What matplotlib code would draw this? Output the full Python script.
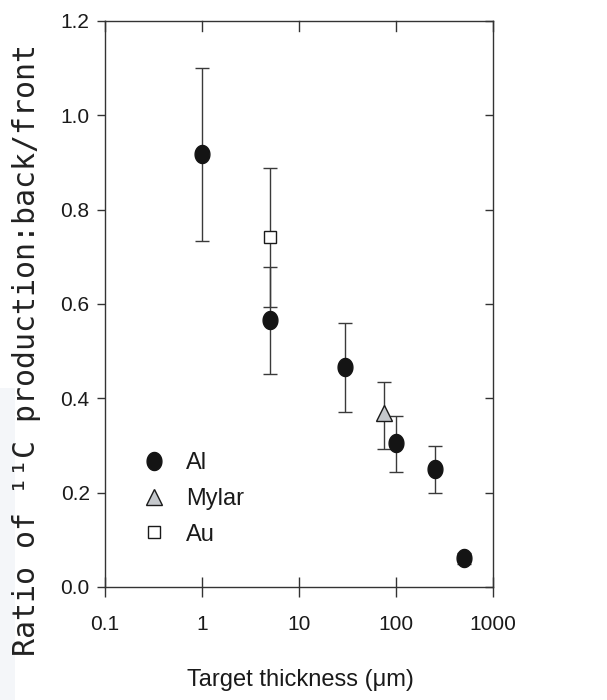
import numpy as np
import matplotlib
matplotlib.use('Agg')
import matplotlib.pyplot as plt
from matplotlib.path import Path
from matplotlib.patches import Rectangle

plt.rcParams['font.family'] = ['Liberation Sans', 'DejaVu Sans']

# datos
al_x = [1, 5, 30, 100, 250, 500]
al_y = [0.919, 0.566, 0.467, 0.305, 0.251, 0.061]
al_lo = [0.734, 0.452, 0.372, 0.243, 0.199, 0.048]
al_hi = [1.101, 0.678, 0.559, 0.363, 0.298, 0.073]

mylar_x = [75]
mylar_y = [0.368]
mylar_lo = [0.292]
mylar_hi = [0.435]

au_x = [5]
au_y = [0.741]
au_lo = [0.593]
au_hi = [0.889]

xticks = [0.1, 1, 10, 100, 1000]
xtick_labels = ['0.1', '1', '10', '100', '1000']
yticks = [0.0, 0.2, 0.4, 0.6, 0.8, 1.0, 1.2]

# marcador eliptico (un poco mas alto que ancho)
t = np.linspace(0, 2 * np.pi, 60)
ellipse = Path(np.column_stack([0.82 * np.cos(t), np.sin(t)]), closed=True)

fig = plt.figure(figsize=(6.07, 7), dpi=100)
fig.patches.append(Rectangle((0, 0), 15 / 607, 1 - 388 / 700, transform=fig.transFigure,
                             facecolor='#f4f6f9', edgecolor='none', zorder=0))
ax = fig.add_axes([105 / 607, 1 - 587 / 700, 388 / 607, 566 / 700])


def err(y, lo, hi):
    y = np.array(y)
    return [y - np.array(lo), np.array(hi) - y]


ecol = '#3a3a3a'
ax.errorbar(al_x, al_y, yerr=err(al_y, al_lo, al_hi), fmt='none', ecolor=ecol,
            elinewidth=1.0, capsize=5, capthick=1.0, zorder=2)
ax.errorbar(mylar_x, mylar_y, yerr=err(mylar_y, mylar_lo, mylar_hi), fmt='none', ecolor=ecol,
            elinewidth=1.0, capsize=5, capthick=1.0, zorder=2)
ax.errorbar(au_x, au_y, yerr=err(au_y, au_lo, au_hi), fmt='none', ecolor=ecol,
            elinewidth=1.0, capsize=5, capthick=1.0, zorder=2)

ax.plot(al_x, al_y, linestyle='none', marker=ellipse, markersize=13,
        color='#141414', label='Al', zorder=3)
ax.plot(mylar_x, mylar_y, linestyle='none', marker='^', markersize=11,
        markerfacecolor='#c5c8cc', markeredgecolor='#1a1a1a', markeredgewidth=1.0,
        label='Mylar', zorder=3)
ax.plot(au_x, au_y, linestyle='none', marker='s', markersize=9,
        markerfacecolor='white', markeredgecolor='#1a1a1a', markeredgewidth=1.0,
        label='Au', zorder=3)

ax.set_xscale('log')
ax.set_xlim(0.1, 1000)
ax.set_ylim(0, 1.2)
ax.set_xticks(xticks)
ax.set_xticklabels(xtick_labels)
ax.xaxis.set_minor_locator(matplotlib.ticker.NullLocator())
ax.set_yticks(yticks)
ax.set_yticklabels([f'{v:.1f}' for v in yticks])

for s in ax.spines.values():
    s.set_color('#333333')
    s.set_linewidth(1.0)

ax.tick_params(axis='x', which='major', direction='inout', length=14, width=1.0,
               color='#333333', labelsize=15, pad=13, top=False, labelcolor='#1a1a1a')
ax.tick_params(axis='y', which='major', direction='out', length=6, width=1.0,
               color='#333333', labelsize=15, pad=5, right=False, labelcolor='#1a1a1a')

# ticks interiores arriba y a la derecha
for v in xticks:
    ax.plot([v, v], [1.2, 1.2 - 0.022], color='#333333', lw=1.0, clip_on=False, zorder=1)
ax2 = ax.secondary_yaxis('right')
ax2.set_yticks(yticks)
ax2.tick_params(direction='in', length=6, width=1.0, color='#333333', labelright=False)
ax2.spines['right'].set_visible(False)

leg = ax.legend(loc='upper left', bbox_to_anchor=(0.065, 0.255), frameon=False,
                fontsize=17, handlelength=1.2, handletextpad=0.75, labelspacing=0.58,
                borderaxespad=0)
for txt in leg.get_texts():
    txt.set_color('#1a1a1a')

fig.text(300 / 607, 1 - 680 / 700, 'Target thickness (\u03bcm)', ha='center', va='center',
         fontsize=17, color='#1a1a1a')
fig.text(27 / 607, 1 - 350 / 700, 'Ratio of \u00b9\u00b9C production:back/front',
         rotation=90, ha='center', va='center', fontsize=21.5,
         family=['DejaVu Sans Mono'], color='#222222')

fig.savefig('out.png', dpi=100)
